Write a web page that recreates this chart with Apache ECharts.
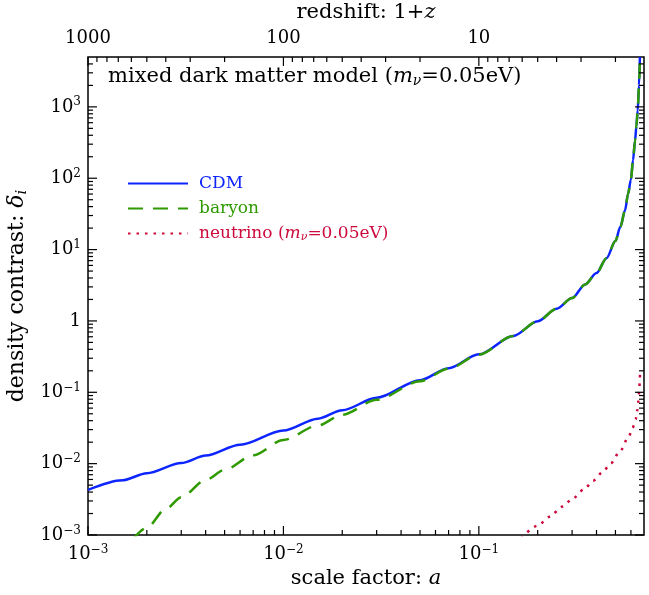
<!DOCTYPE html>
<html>
<head>
<meta charset="utf-8">
<script src="https://cdn.jsdelivr.net/npm/echarts@6/dist/echarts.min.js"></script>
<style>
html,body{margin:0;padding:0;background:#fff;}
#chart{width:649px;height:595px;}
</style>
</head>
<body>
<div id="chart"></div>
<script>
// ---------- data ----------
const cdmA     = [0.001, 0.0015, 0.002, 0.003, 0.004, 0.006, 0.01, 0.015, 0.02, 0.03, 0.05, 0.07, 0.1, 0.15, 0.2, 0.25, 0.3, 0.35, 0.4, 0.45, 0.5, 0.53, 0.56, 0.58, 0.6, 0.615, 0.63, 0.64, 0.65, 0.66, 0.667];
const cdmDelta = [0.00428, 0.00585, 0.00735, 0.0102, 0.01297, 0.01837, 0.0291, 0.0426, 0.0561, 0.0838, 0.148, 0.218, 0.340, 0.617, 0.989, 1.48, 2.09, 3.24, 4.68, 7.59, 13.2, 20.9, 35.5, 60.3, 95.5, 178, 339, 537, 891, 1995, 5000];

const baryonA     = [0.0017, 0.002, 0.0025, 0.003, 0.004, 0.005, 0.007, 0.01, 0.015, 0.02, 0.03, 0.05, 0.07, 0.1, 0.15, 0.2, 0.25, 0.3, 0.35, 0.4, 0.45, 0.5, 0.53, 0.56, 0.58, 0.6, 0.615, 0.63, 0.64, 0.65, 0.66, 0.667];
const baryonDelta = [0.00087, 0.00127, 0.00232, 0.00339, 0.0059, 0.0082, 0.0131, 0.0215, 0.0342, 0.0485, 0.0785, 0.143, 0.214, 0.336, 0.617, 0.989, 1.48, 2.09, 3.24, 4.68, 7.59, 13.2, 20.9, 35.5, 60.3, 95.5, 178, 339, 537, 891, 1995, 5000];

const nuA     = [0.165, 0.2, 0.23, 0.268, 0.303, 0.346, 0.385, 0.43, 0.473, 0.526, 0.585, 0.611, 0.635, 0.648, 0.656, 0.662, 0.666, 0.668];
const nuDelta = [0.0009, 0.00135, 0.0018, 0.0025, 0.00327, 0.00438, 0.00578, 0.0076, 0.0101, 0.0147, 0.0239, 0.0313, 0.042, 0.0566, 0.0766, 0.106, 0.145, 0.185];

// axis ranges and tick values
const A_MIN = 0.001, A_MAX = 0.7;
const Z_MIN = 1 / 0.7, Z_MAX = 1000;
const D_MIN = 0.001, D_MAX = 5000;
const xMajorTicks = [0.001, 0.01, 0.1];
const xMinorTicks = [0.002,0.003,0.004,0.005,0.006,0.007,0.008,0.009,
                     0.02,0.03,0.04,0.05,0.06,0.07,0.08,0.09,
                     0.2,0.3,0.4,0.5,0.6];
const zMajorTicks = [1000, 100, 10];
const zMinorTicks = [900,800,700,600,500,400,300,200,
                     90,80,70,60,50,40,30,20,
                     9,8,7,6,5,4,3,2];
const yMajorTicks = [0.001, 0.01, 0.1, 1, 10, 100, 1000];
const yMinorTicks = [0.002,0.003,0.004,0.005,0.006,0.007,0.008,0.009,
                     0.02,0.03,0.04,0.05,0.06,0.07,0.08,0.09,
                     0.2,0.3,0.4,0.5,0.6,0.7,0.8,0.9,
                     2,3,4,5,6,7,8,9,
                     20,30,40,50,60,70,80,90,
                     200,300,400,500,600,700,800,900,
                     2000,3000,4000];

// ---------- style ----------
const BLUE = '#0d25ff', GREEN = '#2f9a00', RED = '#cc0a3c';
const FONT = 'DejaVu Serif';
const MAJ = 9, MIN = 5;
function richFor(size) {
  return {
    sup: { fontSize: Math.round(size * 0.66), fontFamily: FONT, verticalAlign: 'top', padding: [0, 0, Math.round(size * 0.5), 0] },
    sub: { fontSize: Math.round(size * 0.66), fontFamily: FONT, fontStyle: 'italic', verticalAlign: 'bottom', padding: [Math.round(size * 0.4), 0, 0, 0] },
    it:  { fontSize: size, fontFamily: FONT, fontStyle: 'italic' }
  };
}

function pow10Label(v) {
  const e = Math.log10(v);
  const r = Math.round(e);
  if (Math.abs(e - r) > 1e-6) return '';
  if (r === 0) return '1';
  return '10{sup|' + (r < 0 ? '\u2212' + (-r) : r) + '}';
}

function xTickSeries(name, values, len, axisIdx) {
  return {
    name: name, type: 'custom', coordinateSystem: 'cartesian2d', xAxisIndex: axisIdx, yAxisIndex: 0,
    silent: true, z: 5, clip: false,
    data: values.map(function (v) { return [v, D_MIN]; }),
    renderItem: function (params, api) {
      const v = api.value(0);
      if (axisIdx === 0) {
        const p = api.coord([v, D_MIN]);
        return { type: 'line', shape: { x1: p[0], y1: p[1], x2: p[0], y2: p[1] - len }, style: { stroke: '#000', lineWidth: 1.2 } };
      }
      const p = api.coord([v, D_MAX]);
      return { type: 'line', shape: { x1: p[0], y1: p[1], x2: p[0], y2: p[1] + len }, style: { stroke: '#000', lineWidth: 1.2 } };
    }
  };
}
function yTickSeries(name, values, len) {
  return {
    name: name, type: 'custom', coordinateSystem: 'cartesian2d', xAxisIndex: 0, yAxisIndex: 0,
    silent: true, z: 5, clip: false,
    data: values.map(function (v) { return [A_MIN, v]; }),
    renderItem: function (params, api) {
      const v = api.value(1);
      const pl = api.coord([A_MIN, v]);
      const pr = api.coord([A_MAX, v]);
      return { type: 'group', children: [
        { type: 'line', shape: { x1: pl[0], y1: pl[1], x2: pl[0] + len, y2: pl[1] }, style: { stroke: '#000', lineWidth: 1.2 } },
        { type: 'line', shape: { x1: pr[0], y1: pr[1], x2: pr[0] - len, y2: pr[1] }, style: { stroke: '#000', lineWidth: 1.2 } }
      ] };
    }
  };
}
function pairs(xs, ys) { return xs.map(function (x, i) { return [x, ys[i]]; }); }

const chart = echarts.init(document.getElementById('chart'), null, { renderer: 'canvas' });
chart.setOption({
  animation: false,
  backgroundColor: '#fff',
  textStyle: { fontFamily: FONT },
  title: {
    text: 'mixed dark matter model ({it|m}{sub|\u03bd}=0.05eV)',
    left: 108, top: 66, padding: 0,
    textStyle: { fontFamily: FONT, fontSize: 21, fontWeight: 'normal', color: '#000', rich: richFor(21) }
  },
  legend: {
    orient: 'vertical', left: 127, top: 175, padding: 0,
    itemWidth: 60, itemHeight: 20, itemGap: 8,
    itemStyle: { color: 'rgba(0,0,0,0)', borderColor: 'rgba(0,0,0,0)', borderWidth: 0, opacity: 0 },
    textStyle: { fontFamily: FONT, fontSize: 17, padding: [0, 0, 0, 6], rich: richFor(17) },
    formatter: function (name) {
      if (name === 'neutrino') return 'neutrino ({it|m}{sub|\u03bd}=0.05eV)';
      return name;
    },
    data: [
      { name: 'CDM', textStyle: { color: BLUE } },
      { name: 'baryon', textStyle: { color: GREEN } },
      { name: 'neutrino', textStyle: { color: RED } }
    ]
  },
  grid: { left: 88, top: 57, width: 556, height: 478, outerBoundsMode: 'none', containLabel: false,
          show: true, borderColor: '#000', borderWidth: 1.5, backgroundColor: 'transparent' },
  xAxis: [
    {
      type: 'log', logBase: 10, min: A_MIN, max: A_MAX, position: 'bottom',
      axisLine: { show: false }, axisTick: { show: false }, splitLine: { show: false },
      axisLabel: { formatter: pow10Label, margin: 9, color: '#000', fontFamily: FONT, fontSize: 18, rich: richFor(18) },
      name: 'scale factor: {it|a}', nameLocation: 'middle', nameGap: 32,
      nameTextStyle: { fontFamily: FONT, fontSize: 21, color: '#000', rich: richFor(21) }
    },
    {
      type: 'log', logBase: 10, min: Z_MIN, max: Z_MAX, position: 'top', inverse: true,
      axisLine: { show: false }, axisTick: { show: false }, splitLine: { show: false },
      axisLabel: { formatter: function (v) { const e = Math.log10(v); return Math.abs(e - Math.round(e)) < 1e-6 ? String(Math.round(v)) : ''; }, margin: 10, color: '#000', fontFamily: FONT, fontSize: 18 },
      name: 'redshift: 1+{it|z}', nameLocation: 'middle', nameGap: 34,
      nameTextStyle: { fontFamily: FONT, fontSize: 21, color: '#000', rich: richFor(21) }
    }
  ],
  yAxis: [
    {
      type: 'log', logBase: 10, min: D_MIN, max: D_MAX,
      axisLine: { show: false }, axisTick: { show: false }, splitLine: { show: false },
      axisLabel: { formatter: pow10Label, margin: 7, color: '#000', fontFamily: FONT, fontSize: 18, rich: richFor(18) },
      name: 'density contrast: {it|\u03b4}{sub|i}', nameLocation: 'middle', nameGap: 56, nameRotate: 90,
      nameTextStyle: { fontFamily: FONT, fontSize: 22, color: '#000', rich: richFor(22) }
    }
  ],
  series: [
    { name: 'CDM', type: 'line', data: pairs(cdmA, cdmDelta), showSymbol: false, symbol: 'none', smooth: 0.3, smoothMonotone: 'x', clip: true,
      lineStyle: { color: BLUE, width: 2.5 }, itemStyle: { color: BLUE }, z: 3 },
    { name: 'baryon', type: 'line', data: pairs(baryonA, baryonDelta), showSymbol: false, symbol: 'none', smooth: 0.3, smoothMonotone: 'x', clip: true,
      lineStyle: { color: GREEN, width: 2.5, type: [15, 10] }, itemStyle: { color: GREEN }, z: 4 },
    { name: 'neutrino', type: 'line', data: pairs(nuA, nuDelta), showSymbol: false, symbol: 'none', smooth: 0.3, smoothMonotone: 'x', clip: true,
      lineStyle: { color: RED, width: 2.5, type: [2.5, 6] }, itemStyle: { color: RED }, z: 4 },
    xTickSeries('xMajor', xMajorTicks, MAJ, 0),
    xTickSeries('xMinor', xMinorTicks, MIN, 0),
    xTickSeries('zMajor', zMajorTicks, MAJ, 1),
    xTickSeries('zMinor', zMinorTicks, MIN, 1),
    yTickSeries('yMajor', yMajorTicks, MAJ),
    yTickSeries('yMinor', yMinorTicks, MIN)
  ]
});
</script>
</body>
</html>
